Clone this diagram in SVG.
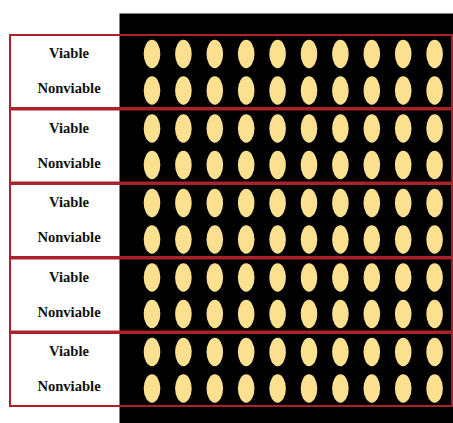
<svg xmlns="http://www.w3.org/2000/svg" width="453" height="423" viewBox="0 0 453 423">
<defs>
<style>
.lbl{font-family:"Liberation Serif","Times New Roman",serif;font-weight:bold;font-size:14.6px;fill:#111;text-anchor:middle}
.box{fill:none;stroke:#a8232a;stroke-width:2}
.seed{fill:#fbe08f}
</style>
<ellipse id="s" cx="0" cy="0" rx="8.3" ry="14.2" class="seed"/>
<g id="row">
<use href="#s" x="152"/><use href="#s" x="183.4"/><use href="#s" x="214.8"/><use href="#s" x="246.2"/><use href="#s" x="277.6"/>
<use href="#s" x="309"/><use href="#s" x="340.4"/><use href="#s" x="371.8"/><use href="#s" x="403.2"/><use href="#s" x="434.6"/>
</g>
</defs>
<rect x="0" y="0" width="453" height="423" fill="#fff"/>
<rect id="background" x="119.5" y="13.5" width="333.5" height="409.5" fill="#000"/>
<g id="seeds">
<use href="#row" y="54"/><use href="#row" y="90.5"/>
<use href="#row" y="128.5"/><use href="#row" y="165"/>
<use href="#row" y="203"/><use href="#row" y="239.5"/>
<use href="#row" y="277.5"/><use href="#row" y="314"/>
<use href="#row" y="352"/><use href="#row" y="388.5"/>
</g>
<g id="group1"><rect class="box" x="10" y="35" width="442" height="73"/><text class="lbl" x="69" y="58.3">Viable</text><text class="lbl" x="69" y="93.3">Nonviable</text></g>
<g id="group2"><rect class="box" x="10" y="109.5" width="442" height="73"/><text class="lbl" x="69" y="132.8">Viable</text><text class="lbl" x="69" y="167.8">Nonviable</text></g>
<g id="group3"><rect class="box" x="10" y="184" width="442" height="73"/><text class="lbl" x="69" y="207.3">Viable</text><text class="lbl" x="69" y="242.3">Nonviable</text></g>
<g id="group4"><rect class="box" x="10" y="258.5" width="442" height="73"/><text class="lbl" x="69" y="281.8">Viable</text><text class="lbl" x="69" y="316.8">Nonviable</text></g>
<g id="group5"><rect class="box" x="10" y="333" width="442" height="73"/><text class="lbl" x="69" y="356.3">Viable</text><text class="lbl" x="69" y="391.3">Nonviable</text></g>
</svg>
